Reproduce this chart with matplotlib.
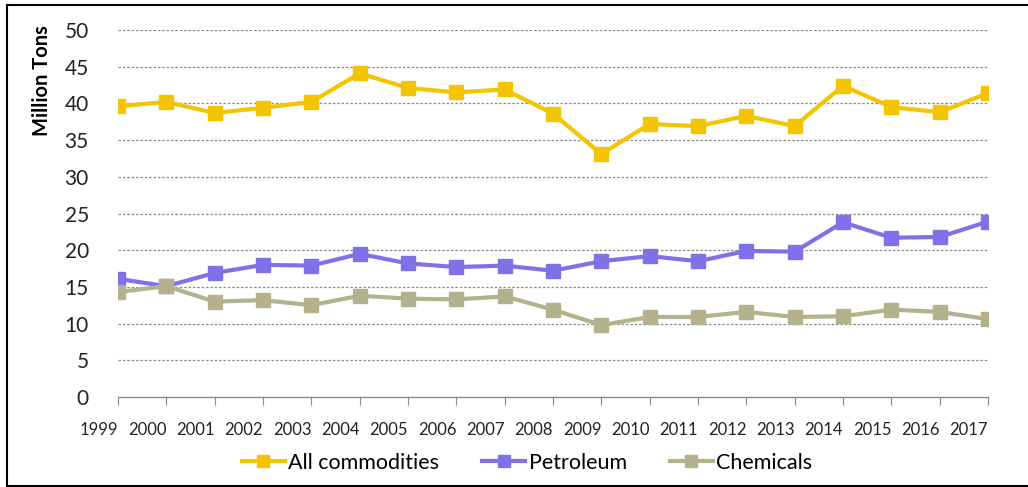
import matplotlib
matplotlib.use("Agg")
import matplotlib.pyplot as plt
from matplotlib.lines import Line2D

years = [str(y) for y in range(1999, 2018)]
all_commodities = [39.6, 40.2, 38.7, 39.4, 40.2, 44.1, 42.1, 41.5, 41.9, 38.6,
                   33.1, 37.2, 36.9, 38.3, 36.9, 42.4, 39.5, 38.8, 41.4]
petroleum = [16.1, 15.1, 16.9, 18.0, 17.9, 19.5, 18.2, 17.7, 17.9, 17.2,
             18.5, 19.2, 18.5, 19.9, 19.8, 23.8, 21.7, 21.8, 23.9]
chemicals = [14.3, 15.1, 13.0, 13.2, 12.5, 13.8, 13.4, 13.3, 13.7, 11.9,
             9.8, 10.9, 10.9, 11.6, 10.9, 11.0, 11.9, 11.6, 10.6]
series_names = ["All commodities", "Petroleum", "Chemicals"]
colors = ["#F5C400", "#7F72E8", "#B3B28C"]
y_ticks = list(range(0, 55, 5))

plt.rcParams['font.family'] = ['Lato', 'DejaVu Sans']

W, H = 1028, 487
fig = plt.figure(figsize=(W / 100, H / 100), dpi=100)
ax = fig.add_axes([118 / W, 1 - 397 / H, (988 - 118) / W, (397 - 30) / H])

x = list(range(len(years)))
for vals, c in zip([all_commodities, petroleum, chemicals], colors):
    ax.plot(x, vals, color=c, lw=3, marker='s', ms=10, mec=c, mfc=c, zorder=3,
            solid_joinstyle='round')

ax.set_xlim(0, len(years) - 1)
ax.set_ylim(0, 50)
ax.set_yticks(y_ticks)
ax.set_yticklabels([str(v) for v in y_ticks], fontsize=15, color='#222222')
for v in y_ticks[1:]:
    ax.axhline(v, color='#8a8a8a', lw=0.9, ls=(0, (2, 1.5)), zorder=1)

ax.set_xticks(x)
ax.set_xticklabels([])
for xi, lab in zip(x, years):
    ax.text(xi, -0.068, lab, transform=ax.get_xaxis_transform(), ha='right', va='top',
            fontsize=12, color='#222222')
for s in ['top', 'right', 'left']:
    ax.spines[s].set_visible(False)
ax.spines['bottom'].set_color('#8a8a8a')
ax.spines['bottom'].set_linewidth(1.0)
ax.tick_params(axis='x', length=6, color='#8a8a8a', direction='out')
ax.tick_params(axis='y', length=0, pad=21)

fig.text(42 / W, 1 - 81 / H, "Million Tons", rotation=90, ha='center', va='center',
         fontsize=14.5, fontweight='bold', color='#000000')

handles = [Line2D([0], [0], color=c, lw=3, marker='s', ms=9, mec=c, mfc=c) for c in colors]
leg = fig.legend(handles, series_names, loc='center', bbox_to_anchor=(527 / W, 1 - 463 / H),
                 ncol=3, frameon=False, fontsize=15.5, handlelength=2.0, handletextpad=0.15,
                 columnspacing=2.0)

# outer border
fig.add_artist(Line2D([7 / W, 7 / W], [1 - 486 / H, 1 - 5 / H], color='black', lw=1.5,
                      transform=fig.transFigure))
fig.add_artist(Line2D([7 / W, 1.01], [1 - 5 / H, 1 - 5 / H], color='black', lw=1.5,
                      transform=fig.transFigure))
fig.add_artist(Line2D([7 / W, 1.01], [1 - 486 / H, 1 - 486 / H], color='black', lw=1.5,
                      transform=fig.transFigure))

fig.savefig("out.png", dpi=100)
